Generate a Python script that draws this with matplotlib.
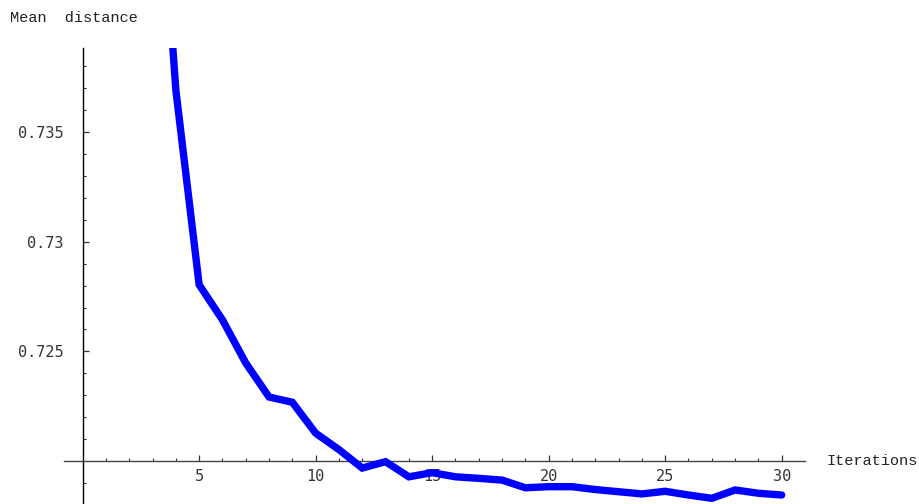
import matplotlib.pyplot as plt
from matplotlib.ticker import FixedLocator

iterations = [3, 4, 5, 6, 7, 8, 9, 10, 11, 12, 13, 14, 15, 16, 17, 18,
              19, 20, 21, 22, 23, 24, 25, 26, 27, 28, 29, 30]
mean_distance = [0.7518, 0.73692, 0.72804, 0.72644, 0.72447, 0.72292, 0.72268,
                 0.72127, 0.72052, 0.71968, 0.71997, 0.71928, 0.71947, 0.71928,
                 0.71921, 0.71913, 0.71878, 0.71883, 0.71883, 0.71870, 0.71860,
                 0.71850, 0.71862, 0.71845, 0.71830, 0.71868, 0.71853, 0.71845]

x_major = [5, 10, 15, 20, 25, 30]
y_major = [0.725, 0.73, 0.735]
y_labels = ["0.725", "0.73", "0.735"]

fig = plt.figure(figsize=(9.2, 5.04), dpi=100)
# axes spans px 64..805 horizontally, 48..504 vertically
ax = fig.add_axes([64 / 920, 0, (805 - 64) / 920, (504 - 48) / 504])

ax.plot(iterations, mean_distance, color=(0, 0, 1), lw=5.3,
        solid_capstyle='round', solid_joinstyle='miter', zorder=3)

ax.set_xlim(-0.8, 31)
ax.set_ylim(0.71804, 0.73884)

for s in ['top', 'right']:
    ax.spines[s].set_visible(False)
ax.spines['left'].set_position(('data', 0))
ax.spines['bottom'].set_position(('data', 0.72))
ax.spines['left'].set_linewidth(1.0)
ax.spines['bottom'].set_linewidth(1.0)
ax.spines['bottom'].set_color('#444444')

ax.xaxis.set_major_locator(FixedLocator(x_major))
ax.xaxis.set_minor_locator(FixedLocator([i for i in range(1, 30) if i % 5]))
ax.yaxis.set_major_locator(FixedLocator(y_major))
ax.set_yticklabels(y_labels)
ax.yaxis.set_minor_locator(FixedLocator(
    [round(0.719 + 0.001 * i, 3) for i in range(20) if i not in (1, 6, 11, 16)]))

ax.tick_params(which='major', direction='in', length=4, width=0.9,
               color='#333333', labelsize=11, labelcolor='#333333')
ax.tick_params(which='minor', direction='in', length=2.5, width=0.8, color='#333333')
ax.tick_params(axis='y', pad=14)
ax.tick_params(axis='x', pad=6)
for lbl in ax.get_xticklabels() + ax.get_yticklabels():
    lbl.set_fontfamily('DejaVu Sans Mono')

fig.text(10 / 920, 1 - 18 / 504, "Mean  distance", family='Liberation Mono',
         fontsize=11, va='center', ha='left', color='#222222')
fig.text(827 / 920, 1 - 461 / 504, "Iterations", family='Liberation Mono',
         fontsize=11, va='center', ha='left', color='#222222')

fig.savefig("out.png", dpi=100)
